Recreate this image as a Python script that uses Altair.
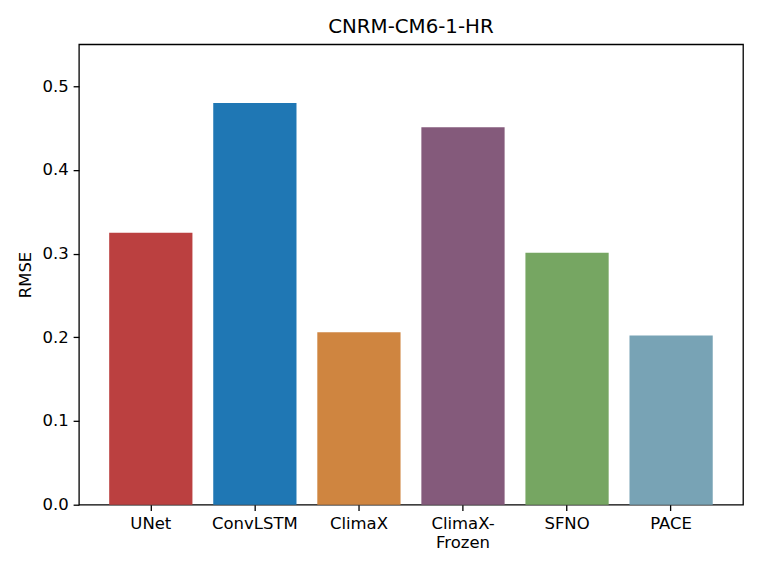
import altair as alt
import pandas as pd

models = ["UNet", "ConvLSTM", "ClimaX", "ClimaX-\nFrozen", "SFNO", "PACE"]
rmse = [0.325, 0.480, 0.206, 0.451, 0.301, 0.202]
colors = ["#bb4040", "#1f77b4", "#cf8540", "#845a7b", "#76a662", "#78a3b5"]

df = pd.DataFrame({"model": models, "rmse": rmse})

FONT = "DejaVu Sans"

chart = alt.Chart(df).mark_bar().encode(
    x=alt.X(
        "model:N",
        sort=models,
        title=None,
        scale=alt.Scale(paddingInner=0.2, paddingOuter=0.291),
        axis=alt.Axis(
            labelAngle=0,
            labelExpr="split(datum.label, '\\n')",
            labelFont=FONT,
            labelFontSize=16.5,
            labelColor="black",
            labelLineHeight=19,
            labelPadding=5,
            labelBaseline="top",
            tickColor="black",
            tickSize=5.8,
            tickWidth=1.3,
            domain=False,
            grid=False,
        ),
    ),
    y=alt.Y(
        "rmse:Q",
        title="RMSE",
        scale=alt.Scale(domain=[0, 0.55], nice=False, zero=True),
        axis=alt.Axis(
            values=[0, 0.1, 0.2, 0.3, 0.4, 0.5],
            format=".1f",
            labelFont=FONT,
            labelFontSize=16.5,
            labelColor="black",
            labelPadding=5,
            tickColor="black",
            tickSize=5.8,
            tickWidth=1.3,
            domain=False,
            grid=False,
            titleFont=FONT,
            titleFontSize=16.5,
            titleFontWeight="normal",
            titleColor="black",
            titlePadding=8,
        ),
    ),
    color=alt.Color(
        "model:N",
        scale=alt.Scale(domain=models, range=colors),
        legend=None,
    ),
).properties(
    width=665,
    height=461,
    background="white",
    title=alt.TitleParams(
        "CNRM-CM6-1-HR",
        font=FONT,
        fontSize=19.8,
        fontWeight="normal",
        color="black",
        anchor="middle",
        offset=8,
    ),
    autosize=alt.AutoSizeParams(type="none"),
    padding={"left": 71, "top": 36, "right": 10, "bottom": 50},
).configure_view(
    stroke="black",
    strokeWidth=1.3,
)

chart.save("out.html", embed_options={"renderer": "svg", "actions": False})
